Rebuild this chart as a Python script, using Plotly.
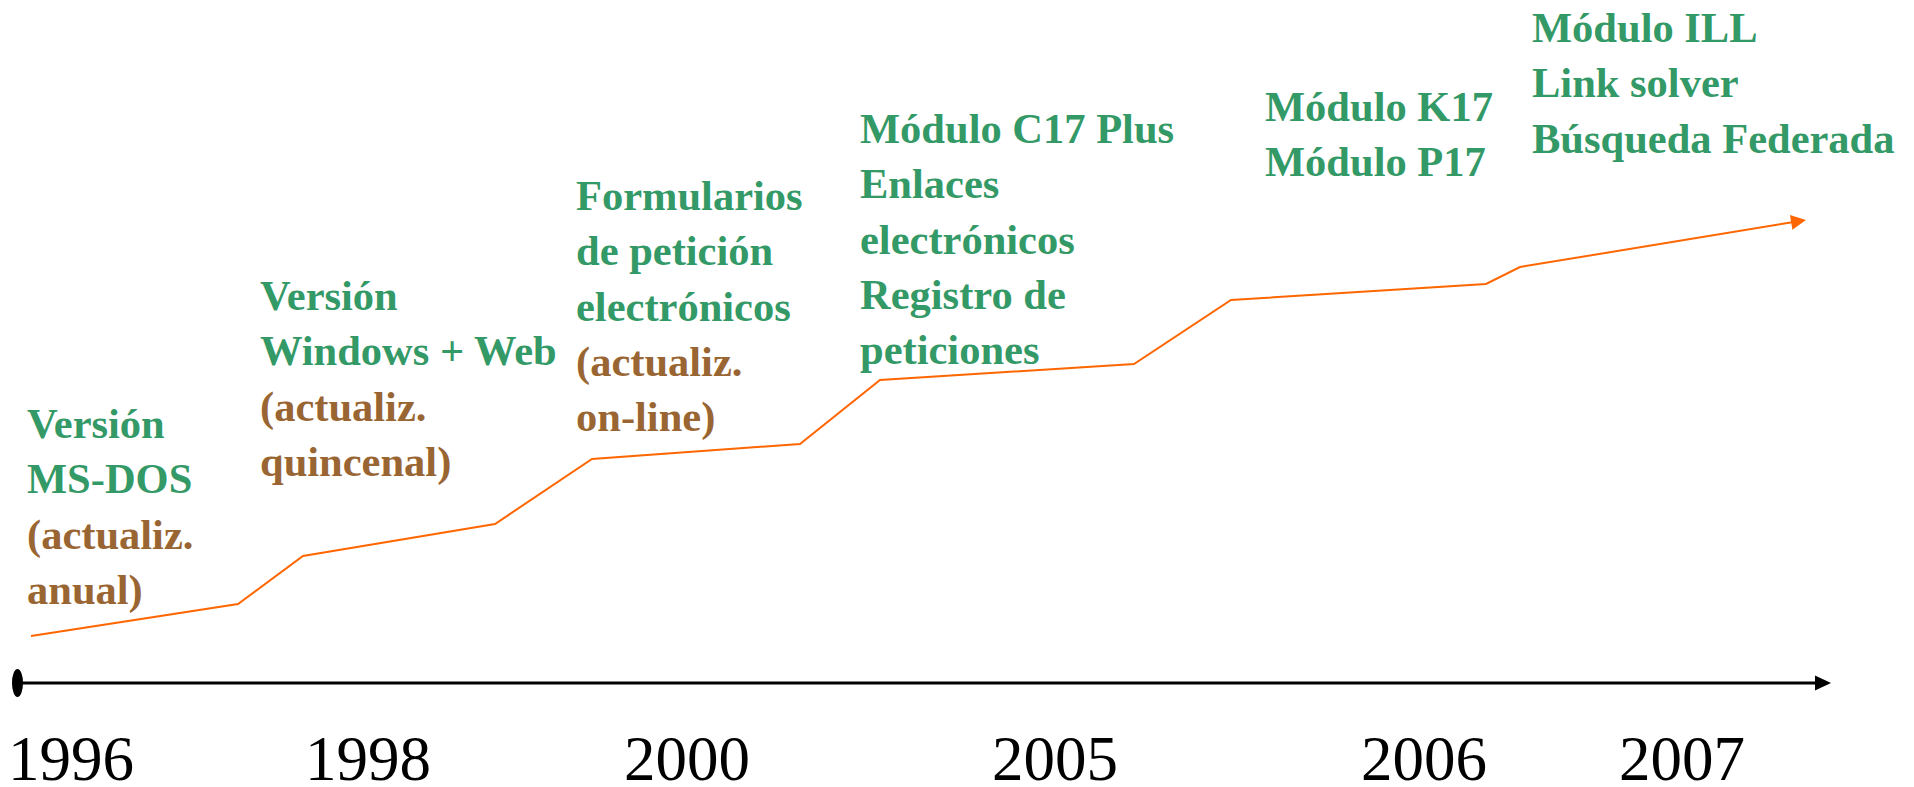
import numpy as np
import plotly.graph_objects as go

W, H = 1914, 787

# ---------------- data ----------------
# Timeline years and their positions along the horizontal axis (chart units)
years = ["1996", "1998", "2000", "2005", "2006", "2007"]
year_pos = [71, 368, 687, 1055, 1424, 1682]

# Orange "evolution" line (x = position along timeline, y = level)
evo_x = [31, 238, 303, 495, 592, 800, 880, 1134, 1231, 1486, 1520, 1806]
evo_y = [151, 183, 231, 263, 328, 343, 407, 423, 487, 503, 520, 567]

# Milestone texts: green = features, brown = update frequency
features = [
    ["Versión", "MS-DOS"],
    ["Versión", "Windows + Web"],
    ["Formularios", "de petición", "electrónicos"],
    ["Módulo C17 Plus", "Enlaces", "electrónicos", "Registro de", "peticiones"],
    ["Módulo K17", "Módulo P17"],
    ["Módulo ILL", "Link solver", "Búsqueda Federada"],
]
updates = [
    ["(actualiz.", "anual)"],
    ["(actualiz.", "quincenal)"],
    ["(actualiz.", "on-line)"],
    [],
    [],
    [],
]

# ---------------- layout constants ----------------
GREEN = "#339966"
BROWN = "#996633"
ORANGE = "#FF6600"
SERIF = "Liberation Serif, Times New Roman, serif"

AXIS_START, AXIS_END, AXIS_LEVEL = 17.5, 1831, 104
LABEL_X = [27, 260, 576, 860, 1265, 1532]
LABEL_BASELINE = [435, 307, 207, 140, 118, 39]   # first-line baseline, measured from top
LABEL_SIZE = 42.5
YEAR_LEVEL = 28
YEAR_SIZE = 63

fig = go.Figure()

# Orange evolution line, shortened so the arrowhead covers its end
ex = np.array(evo_x, dtype=float)
ey = np.array(evo_y, dtype=float)
d = np.array([ex[-1] - ex[-2], ey[-1] - ey[-2]])
u = d / np.hypot(*d)
head_len, head_half = 15.0, 7.5
line_x = ex.copy()
line_y = ey.copy()
line_x[-1] -= u[0] * head_len * 0.6
line_y[-1] -= u[1] * head_len * 0.6
fig.add_trace(go.Scatter(x=line_x, y=line_y, mode="lines",
                         line=dict(color=ORANGE, width=2), hoverinfo="skip"))

# Timeline axis line
ax_head_len, ax_head_half = 16.0, 7.5
fig.add_trace(go.Scatter(x=[AXIS_START, AXIS_END - ax_head_len * 0.6],
                         y=[AXIS_LEVEL, AXIS_LEVEL], mode="lines",
                         line=dict(color="black", width=3), hoverinfo="skip"))


def head_path(tip, unit, length, half):
    base = tip - unit * length
    perp = np.array([-unit[1], unit[0]])
    p1 = base + perp * half
    p2 = base - perp * half
    return f"M {tip[0]},{tip[1]} L {p1[0]},{p1[1]} L {p2[0]},{p2[1]} Z"


shapes = [
    dict(type="path", xref="x", yref="y",
         path=head_path(np.array([ex[-1], ey[-1]]), u, head_len, head_half),
         fillcolor=ORANGE, line=dict(width=0)),
    dict(type="path", xref="x", yref="y",
         path=head_path(np.array([AXIS_END, AXIS_LEVEL]), np.array([1.0, 0.0]),
                        ax_head_len, ax_head_half),
         fillcolor="black", line=dict(width=0)),
    dict(type="circle", xref="x", yref="y",
         x0=AXIS_START - 5.5, x1=AXIS_START + 5.5,
         y0=AXIS_LEVEL - 14, y1=AXIS_LEVEL + 14,
         fillcolor="black", line=dict(width=0)),
]

annotations = []
ascent = 0.891 * LABEL_SIZE - 2.5
for feats, upds, lx, base in zip(features, updates, LABEL_X, LABEL_BASELINE):
    parts = [f'<span style="color:{GREEN}">{t}</span>' for t in feats]
    parts += [f'<span style="color:{BROWN}">{t}</span>' for t in upds]
    top_level = H - (base - ascent)
    annotations.append(dict(
        x=lx, y=top_level, xref="x", yref="y", xanchor="left", yanchor="top",
        align="left", showarrow=False, borderpad=0, borderwidth=0,
        text="<br>".join(parts),
        font=dict(family=SERIF, size=LABEL_SIZE, color=GREEN, weight="bold")))

for yr, xp in zip(years, year_pos):
    annotations.append(dict(
        x=xp, y=YEAR_LEVEL, xref="x", yref="y", xanchor="center", yanchor="middle",
        showarrow=False, borderpad=0, borderwidth=0, text=yr,
        font=dict(family=SERIF, size=YEAR_SIZE, color="black")))

fig.update_layout(
    width=W, height=H,
    margin=dict(l=0, r=0, t=0, b=0),
    paper_bgcolor="white", plot_bgcolor="white", showlegend=False,
    xaxis=dict(range=[0, W], visible=False, fixedrange=True),
    yaxis=dict(range=[0, H], visible=False, fixedrange=True),
    shapes=shapes, annotations=annotations,
)

# remove the page's default body margin so the figure fills the window exactly
fig.write_html(
    "out.html",
    config={"displayModeBar": False},
    post_script="document.body.style.margin='0';document.body.style.overflow='hidden';",
)
